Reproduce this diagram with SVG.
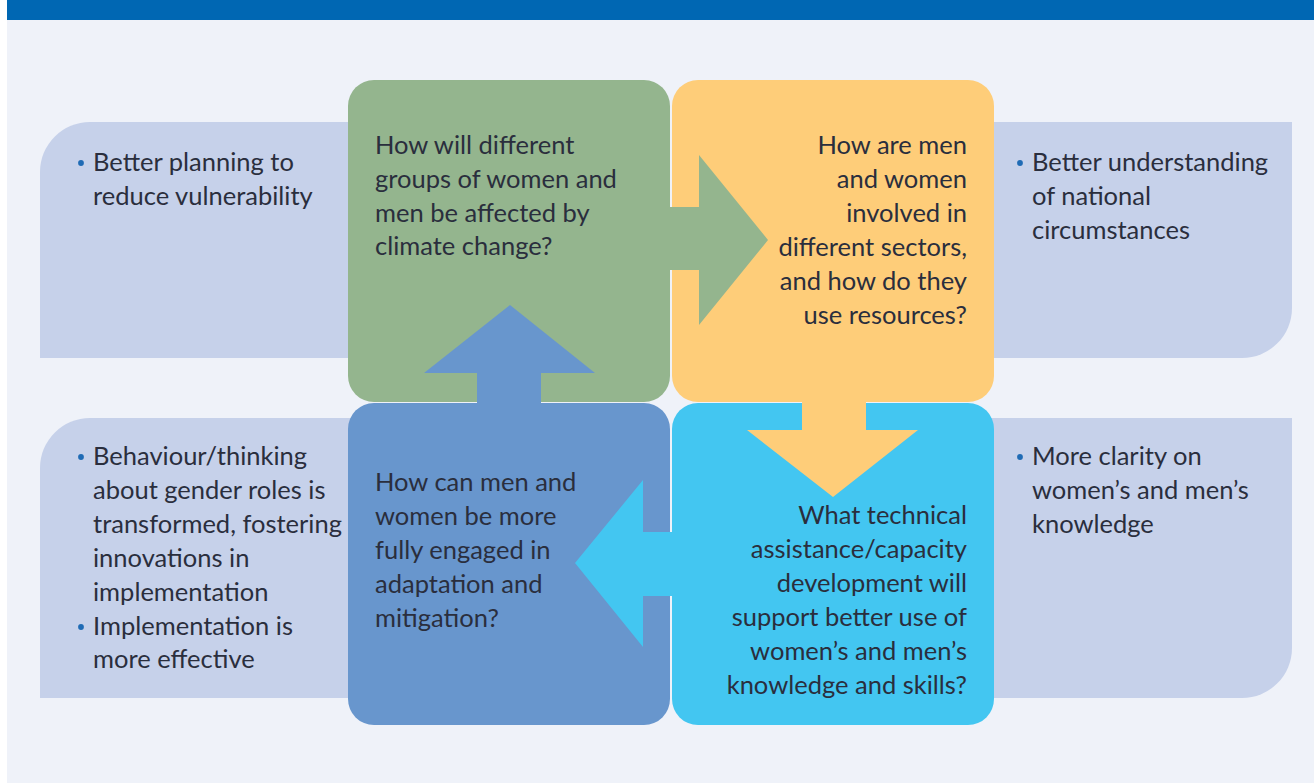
<svg xmlns="http://www.w3.org/2000/svg" width="1314" height="783" viewBox="0 0 1314 783">
<style>
text{font-family:Lato,"Open Sans","Liberation Sans",sans-serif;font-size:25.5px;fill:#2a2e3d}
.r{text-anchor:end}
.panel{fill:#c6d1ea}
.dot{fill:#1f6bb5}
</style>
<rect x="0" y="0" width="1314" height="783" fill="#ffffff"/>
<rect x="7" y="0" width="1307" height="783" fill="#eff2f9"/>
<rect x="7" y="0" width="1307" height="20" fill="#0067b3"/>
<g id="panel-top-left">
<path class="panel" d="M40,358 V172 A50,50 0 0 1 90,122 H360 V358 Z"/>
<circle class="dot" cx="81" cy="163" r="2.9"/>
<text x="93" y="171">Better planning to</text>
<text x="93" y="205">reduce vulnerability</text>
</g>
<g id="panel-bottom-left">
<path class="panel" d="M40,698 V468 A50,50 0 0 1 90,418 H360 V698 Z"/>
<circle class="dot" cx="81" cy="457" r="2.9"/>
<text x="93" y="465">Behaviour/thinking</text>
<text x="93" y="499">about gender roles is</text>
<text x="93" y="533">transformed, fostering</text>
<text x="93" y="567">innovations in</text>
<text x="93" y="601">implementation</text>
<circle class="dot" cx="81" cy="627" r="2.9"/>
<text x="93" y="635">Implementation is</text>
<text x="93" y="668">more effective</text>
</g>
<g id="panel-top-right">
<path class="panel" d="M980,122 H1292 V308 A50,50 0 0 1 1242,358 H980 Z"/>
<circle class="dot" cx="1020" cy="163" r="2.9"/>
<text x="1032" y="171">Better understanding</text>
<text x="1032" y="205">of national</text>
<text x="1032" y="239">circumstances</text>
</g>
<g id="panel-bottom-right">
<path class="panel" d="M980,418 H1292 V648 A50,50 0 0 1 1242,698 H980 Z"/>
<circle class="dot" cx="1020" cy="457" r="2.9"/>
<text x="1032" y="465">More clarity on</text>
<text x="1032" y="499">women’s and men’s</text>
<text x="1032" y="533">knowledge</text>
</g>
<g id="node-green">
<rect x="348" y="80" width="322" height="322" rx="26" fill="#94b58e"/>
</g>
<g id="node-orange">
<rect x="672" y="80" width="322" height="322" rx="26" fill="#fecd79"/>
</g>
<g id="node-blue">
<rect x="348" y="403" width="322" height="322" rx="26" fill="#6896cd"/>
</g>
<g id="node-cyan">
<rect x="672" y="403" width="322" height="322" rx="26" fill="#43c6f1"/>
</g>
<g id="connectors">
<polygon points="662,207 699,207 699,155 768,240 699,325 699,270 662,270" fill="#94b58e"/>
<polygon points="802,395 866,395 866,430 918,430 833,497 747,430 802,430" fill="#fecd79"/>
<polygon points="678,532 643,532 643,480 575,563 643,647 643,596 678,596" fill="#43c6f1"/>
<polygon points="477,410 477,373 424,373 510,305 595,373 541,373 541,410" fill="#6896cd"/>
</g>
<g id="text-green">
<text x="375" y="154">How will different</text>
<text x="375" y="188">groups of women and</text>
<text x="375" y="222">men be affected by</text>
<text x="375" y="255">climate change?</text>
</g>
<g id="text-orange">
<text class="r" x="967" y="154">How are men</text>
<text class="r" x="967" y="188">and women</text>
<text class="r" x="967" y="222">involved in</text>
<text class="r" x="967" y="256">different sectors,</text>
<text class="r" x="967" y="290">and how do they</text>
<text class="r" x="967" y="324">use resources?</text>
</g>
<g id="text-blue">
<text x="375" y="491">How can men and</text>
<text x="375" y="525">women be more</text>
<text x="375" y="559">fully engaged in</text>
<text x="375" y="593">adaptation and</text>
<text x="375" y="627">mitigation?</text>
</g>
<g id="text-cyan">
<text class="r" x="967" y="524">What technical</text>
<text class="r" x="967" y="558">assistance/capacity</text>
<text class="r" x="967" y="592">development will</text>
<text class="r" x="967" y="626">support better use of</text>
<text class="r" x="967" y="660">women’s and men’s</text>
<text class="r" x="967" y="694">knowledge and skills?</text>
</g>
</svg>
